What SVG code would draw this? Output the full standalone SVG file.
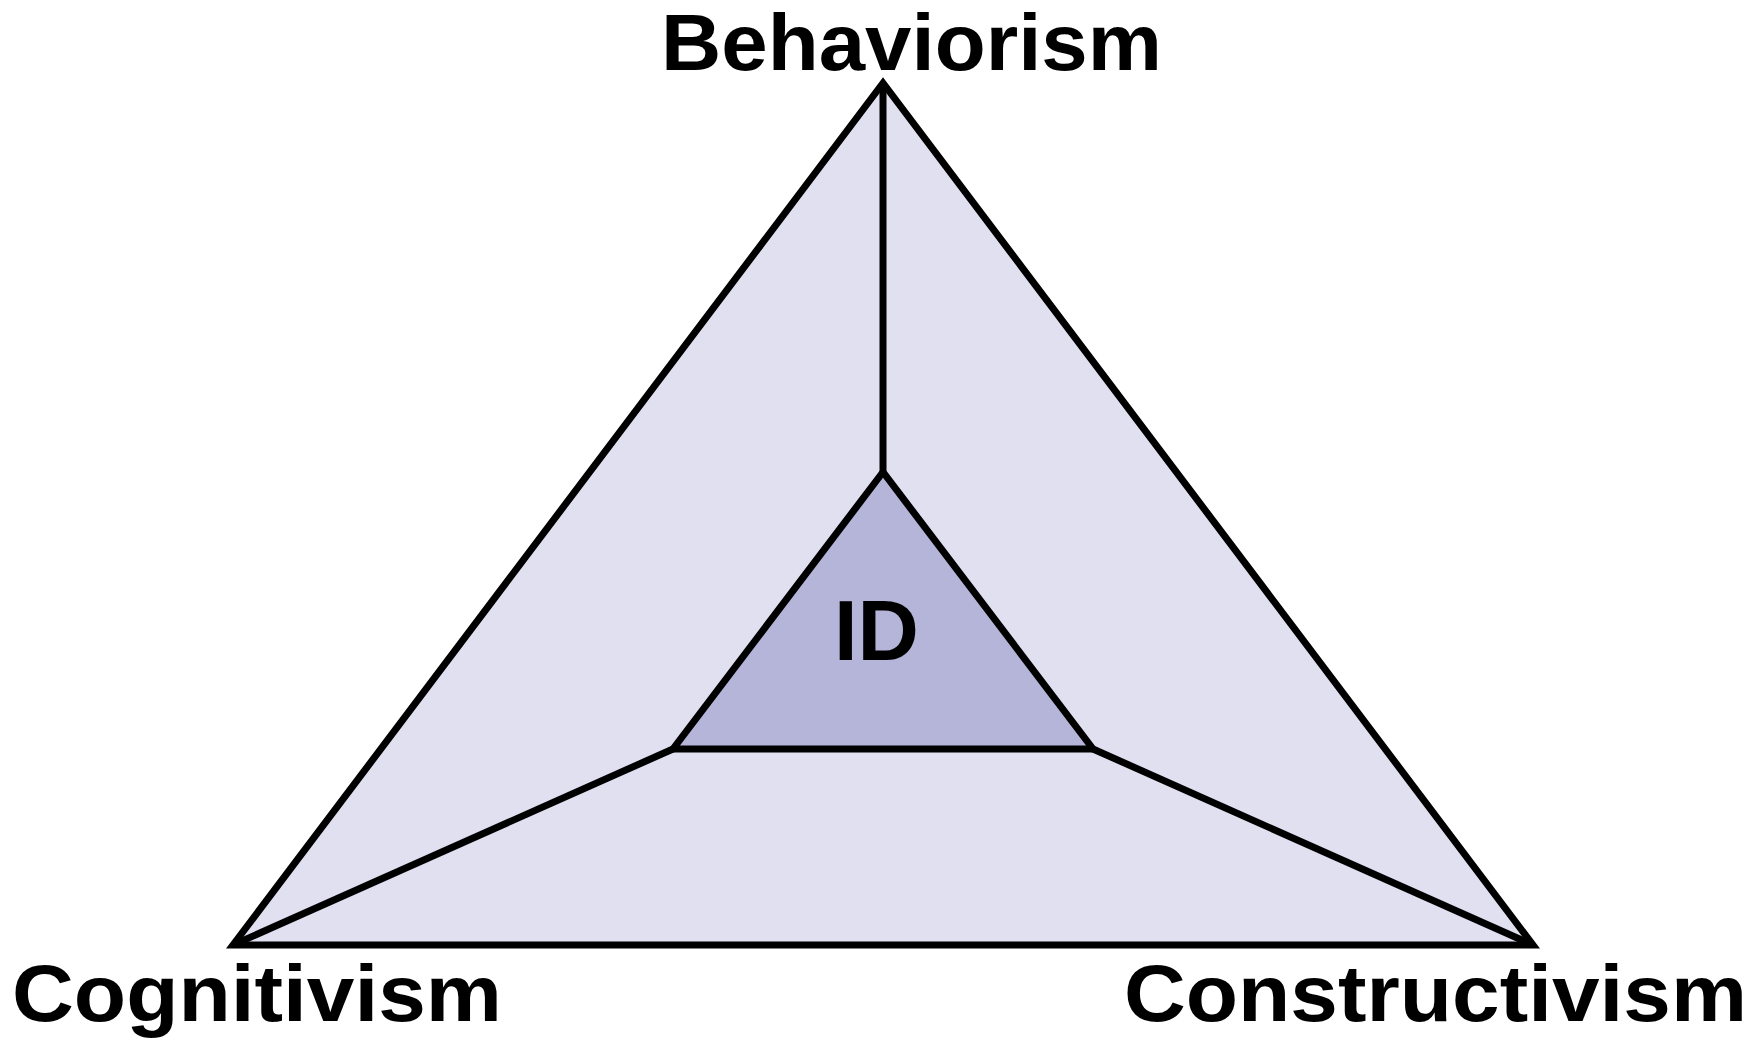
<svg xmlns="http://www.w3.org/2000/svg" width="1762" height="1040" viewBox="0 0 1762 1040">
  <style>
    .edge { stroke: #000; stroke-width: 7; stroke-linejoin: miter; fill: none; }
    .field { fill: #E0E0F1; stroke: #000; stroke-width: 7; stroke-linejoin: miter; }
    .core { fill: #B5B5D9; stroke: #000; stroke-width: 7; stroke-linejoin: miter; }
    .label { font-family: "Liberation Sans", Arial, sans-serif; font-weight: bold; fill: #000; }
  </style>
  <rect width="1762" height="1040" fill="#fff"/>

  <!-- outer triangle: the three learning theories -->
  <g id="theory-field">
    <polygon class="field" points="883,83 233,945 1533,945"/>
  </g>

  <!-- spokes joining each theory corner to the core -->
  <g id="connectors">
    <line class="edge" x1="883" y1="83" x2="883" y2="472"/>
    <line class="edge" x1="233" y1="945" x2="673" y2="749"/>
    <line class="edge" x1="1533" y1="945" x2="1093" y2="749"/>
  </g>

  <!-- inner triangle: instructional design -->
  <g id="id-core">
    <polygon class="core" points="883,472 673,749 1093,749"/>
    <text class="label" x="834" y="660" font-size="86" textLength="85" lengthAdjust="spacingAndGlyphs">ID</text>
  </g>

  <g id="behaviorism">
    <text class="label" x="661" y="70" font-size="80" textLength="501" lengthAdjust="spacingAndGlyphs">Behaviorism</text>
  </g>

  <g id="cognitivism">
    <text class="label" x="12" y="1021" font-size="80" textLength="490" lengthAdjust="spacingAndGlyphs">Cognitivism</text>
  </g>

  <g id="constructivism">
    <text class="label" x="1124" y="1021" font-size="80" textLength="623" lengthAdjust="spacingAndGlyphs">Constructivism</text>
  </g>
</svg>
